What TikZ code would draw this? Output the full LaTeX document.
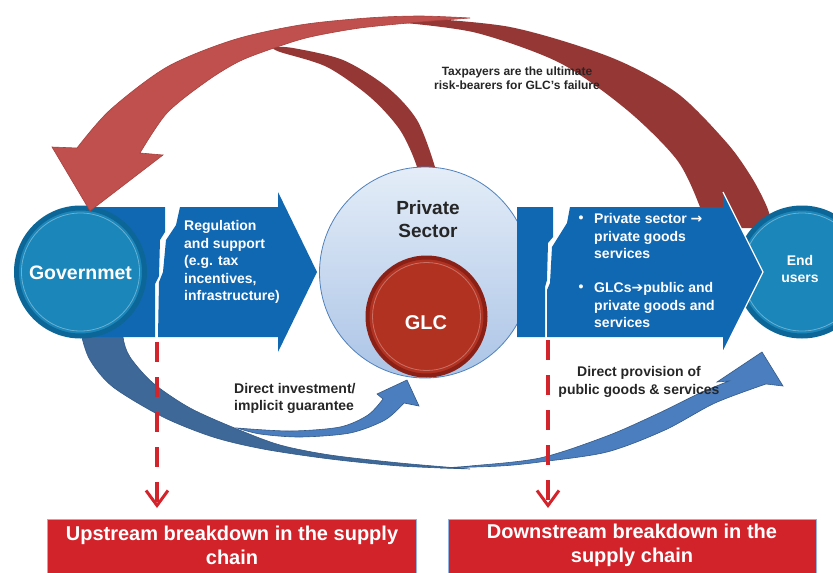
\documentclass[tikz,border=0pt]{standalone}
\usepackage{fontspec}
\setmainfont{Liberation Sans}
\newfontfamily\symfont{DejaVu Sans}
\usetikzlibrary{arrows.meta,calc}
\definecolor{bandblue}{HTML}{1168B2}
\definecolor{circblue}{HTML}{1A86BA}
\definecolor{circrim}{HTML}{0D6698}
\definecolor{lightred}{HTML}{C0504D}
\definecolor{lightredline}{HTML}{A8403D}
\definecolor{darkred}{HTML}{953735}
\definecolor{arcdark}{HTML}{3D6898}
\definecolor{arcmid}{HTML}{4A7EBE}
\definecolor{arcline}{HTML}{345A88}
\definecolor{dashred}{HTML}{D4242B}
\definecolor{boxred}{HTML}{D2232A}
\definecolor{boxline}{HTML}{8EB4E3}
\definecolor{glcred}{HTML}{B23222}
\definecolor{glcrim}{HTML}{8A2016}
\definecolor{psborder}{HTML}{4F81BD}
\definecolor{pstop}{HTML}{E4EDF8}
\definecolor{psbot}{HTML}{ABC4E6}
\definecolor{txt}{HTML}{262626}
\tikzset{
  bluecirc/.style={circle, inner sep=0pt, minimum size=128pt, fill=circblue, draw=circrim, line width=5pt},
  ringhl/.style={draw=white, opacity=.35, line width=.8pt},
  wtext/.style={text=white, font=\bfseries\fontsize{14}{17.4}\selectfont, inner sep=0pt},
  dtext/.style={text=txt, font=\bfseries\fontsize{14}{17.4}\selectfont, inner sep=0pt},
  dashline/.style={draw=dashred, line width=4.5pt, dash pattern=on 20pt off 15pt,
     -{Straight Barb[length=15pt,width=22pt,line width=3pt]}, shorten >=11pt},
  redbox/.style={rectangle, fill=boxred, draw=boxline, line width=.8pt, inner sep=0pt},
  boxtext/.style={text=white, font=\bfseries\fontsize{20}{24}\selectfont, align=center, inner sep=0pt},
}
\begin{document}
\begin{tikzpicture}[x=1pt,y=-1pt]
\clip (0,0) rectangle (833,573);
\fill[white] (0,0) rectangle (833,573);

% ---- dark red back bands ----
\fill[darkred] (405,17) -- plot[smooth] coordinates {(405,17) (510,27) (610,57) (677,93) (727,143) (752,178) (767,207) (773,228)}
  -- (704,228) -- plot[smooth] coordinates {(704,228) (700,207) (677,160) (627,110) (560,63) (477,33) (405,23)} -- cycle;
\fill[darkred] (273,47) -- plot[smooth] coordinates {(273,47) (293,48) (343,60) (387,87) (417,120) (435,167) (438,190)}
  -- (418,190) -- plot[smooth] coordinates {(418,190) (417,167) (400,130) (370,97) (327,67) (280,52) (273,48)} -- cycle;

% ---- blue big arc (back face, dark) ----
\filldraw[fill=arcdark, draw=arcline, line width=.6pt] (80,310) -- plot[smooth] coordinates {(80,310) (81,333) (90,360) (113,387) (163,417) (213,437) (263,449) (330,459) (400,466) (470,469)}
  -- plot[smooth] coordinates {(470,469) (400,463) (330,455) (280,445) (237,429) (190,408) (153,383) (130,357) (123,337) (123,310)} -- cycle;
% ---- blue big arc (front face) ----
\filldraw[fill=arcmid, draw=arcline, line width=.6pt] (440,468) -- plot[smooth] coordinates {(440,468) (500,466) (540,462) (607,452) (665,430) (715,403) (766,384)}
  -- (783,386) -- (762,352) -- (717,382) -- (729,381)
  -- plot[smooth] coordinates {(729,381) (700,393) (657,414) (607,436) (540,458) (470,466) (440,468)} -- cycle;

% ---- left band ----
\fill[bandblue] (80,207) -- (165,207) -- (165,232) -- (160,240) -- (159,276) -- (155,284) -- (155,337) -- (80,337) -- cycle;
\fill[bandblue] (180,207) -- (278,207) -- (278,192) -- (317,272) -- (278,352) -- (278,337) -- (158,337) -- (159,282) -- (163,272) -- (166,240) -- (176,225) -- cycle;

% ---- Government circle ----
\node[bluecirc] (gov) at (80.5,272) {};
\draw[ringhl] (gov.center) circle (59);
\node[wtext, font=\bfseries\fontsize{19.5}{22}\selectfont] (govtext) at (80.5,273) {Governmet};

% ---- Private sector / GLC ----
\node[circle, inner sep=0pt, minimum size=211pt, draw=psborder, line width=.8pt, top color=pstop, bottom color=psbot] (ps) at (425,272.5) {};
\node[text=txt, font=\bfseries\fontsize{19}{23}\selectfont, align=center, inner sep=0pt] (pstext) at (428,219.5) {Private\\Sector};
\node[circle, inner sep=0pt, minimum size=118pt, fill=glcred, draw=glcrim, line width=4pt] (glc) at (426.5,316.5) {};
\draw[ringhl, opacity=.3] (glc.center) circle (54);
\node[wtext, font=\bfseries\fontsize{20}{22}\selectfont] (glctext) at (426,323) {GLC};

% ---- inner blue arc (direct investment) ----
\filldraw[fill=arcmid, draw=arcline, line width=.6pt] (237,428) -- plot[smooth] coordinates {(237,428) (290,431) (340,427) (368,415) (383,399)}
  -- (377,394) -- (407,380) -- (419,406) -- (404,403)
  -- plot[smooth] coordinates {(404,403) (385,420) (350,433) (300,437) (260,434) (237,428)} -- cycle;

% ---- right band section A ----
\fill[bandblue] (517,207) -- (553,207) -- (553,237) -- (548,243) -- (547,280) -- (545,287) -- (545,337) -- (517,337) -- cycle;

% ---- End users circle ----
\node[bluecirc] (end) at (802,272) {};
\draw[ringhl] (end.center) circle (59);

% ---- right band section B ----
\fill[bandblue] (570,207) -- (723,207) -- (723,192) -- (763,272) -- (723,352) -- (723,337) -- (547,337) -- (547,290) -- (550,283) -- (552,247) -- (567,223) -- cycle;
\draw[white, line width=1.2pt] (723,192) -- (763,272) -- (723,352);
\node[wtext, align=center] (endtext) at (800,269) {End\\users};

% ---- light red arrow to Government ----
\filldraw[fill=lightred, draw=lightredline, line width=.6pt] (77,148) -- plot[smooth] coordinates {(77,148) (110,110) (167,67) (233,40) (300,25) (367,18) (420,16) (470,18)}
  -- plot[smooth] coordinates {(470,18) (420,22) (360,28) (310,37) (277,47) (240,61) (207,81) (167,113) (140,153)}
  -- (163,155) -- (90,211) -- (52,147) -- cycle;

% ---- texts ----
\node[wtext, align=left, anchor=west] (regtext) at (184,262) {Regulation\\and support\\(e.g. tax\\incentives,\\infrastructure)};
\node[wtext] (bul1) at (581,219) {•};
\node[wtext, align=left, anchor=west] (ptext1) at (594,236) {Private sector {\symfont\bfseries →}\\private goods\\services};
\node[wtext] (bul2) at (581,288) {•};
\node[wtext, align=left, anchor=west] (ptext2) at (594,305) {GLCs{\symfont\bfseries ➔}public and\\private goods and\\services};
\node[dtext, align=left, anchor=west] (ditext) at (234,398.5) {Direct investment/\\implicit guarantee};
\node[dtext, align=center] (dptext) at (639,382) {Direct provision of\\public goods \& services};
\node[text=txt, font=\bfseries\fontsize{12}{14}\selectfont, align=center, inner sep=0pt] (taxtext) at (517,78) {Taxpayers are the ultimate\\risk-bearers for GLC’s failure};

% ---- bottom boxes ----
\node[redbox, minimum width=369pt, minimum height=70pt, anchor=north west] (up) at (47,519) {};
\node[boxtext] (uptext) at (232,545) {Upstream breakdown in the supply\\chain};
\node[redbox, minimum width=368pt, minimum height=70pt, anchor=north west] (down) at (448,519) {};
\node[boxtext] (downtext) at (632,545) {Downstream breakdown in the\\supply chain};

% ---- dashed connectors ----
\coordinate (d1) at (157,342);
\coordinate (d2) at (548,340);
\draw[dashline] (d1) -- (d1 |- up.north);
\draw[dashline] (d2) -- (d2 |- down.north);
\end{tikzpicture}
\end{document}
